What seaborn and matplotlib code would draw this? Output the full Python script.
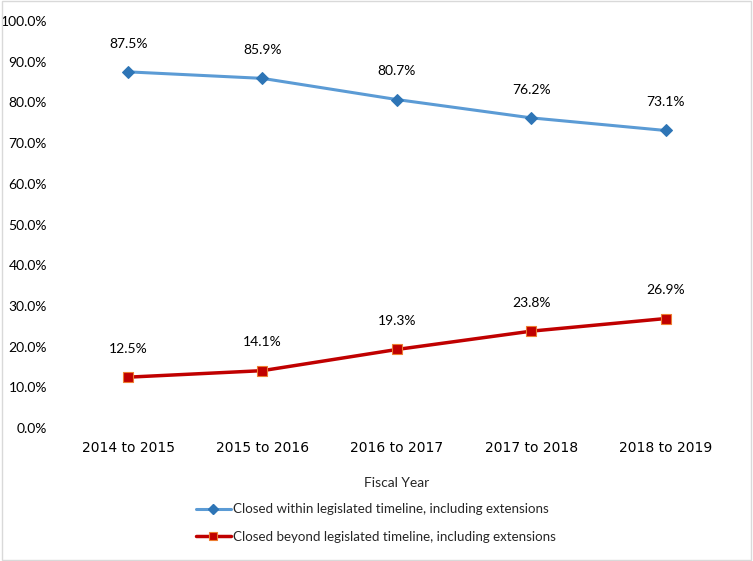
import matplotlib
matplotlib.use("Agg")
import matplotlib.pyplot as plt
import seaborn as sns
import pandas as pd
from matplotlib.ticker import FuncFormatter
from matplotlib.lines import Line2D

years = ["2014 to 2015", "2015 to 2016", "2016 to 2017", "2017 to 2018", "2018 to 2019"]
within = [87.5, 85.9, 80.7, 76.2, 73.1]
beyond = [12.5, 14.1, 19.3, 23.8, 26.9]
series_names = ["Closed within legislated timeline, including extensions",
                "Closed beyond legislated timeline, including extensions"]
yticks = [0, 10, 20, 30, 40, 50, 60, 70, 80, 90, 100]

sns.set_theme(style="white")
plt.rcParams['font.family'] = ['Lato', 'DejaVu Sans']

fig = plt.figure(figsize=(7.53, 5.61), dpi=100)
ax = fig.add_axes([0.081, 0.237, 0.892, 0.7256])

df = pd.DataFrame({"x": list(range(len(years))) * 2,
                   "v": within + beyond,
                   "s": [series_names[0]] * 5 + [series_names[1]] * 5})

sns.lineplot(data=df[df.s == series_names[0]], x="x", y="v", ax=ax, color="#5B9BD5",
             lw=2.2, marker="D", markersize=6, markerfacecolor="#2E75B6",
             markeredgecolor="#2E75B6", legend=False)
sns.lineplot(data=df[df.s == series_names[1]], x="x", y="v", ax=ax, color="#C00000",
             lw=2.5, marker="s", markersize=7, markerfacecolor="#C00000",
             markeredgecolor="#ED7D31", markeredgewidth=0.8, legend=False)

for i, v in enumerate(within):
    ax.annotate(f"{v:.1f}%", (i, v), xytext=(0, 16), textcoords="offset points",
                ha="center", va="bottom", fontsize=10, color="#000000")
for i, v in enumerate(beyond):
    ax.annotate(f"{v:.1f}%", (i, v), xytext=(0, 16), textcoords="offset points",
                ha="center", va="bottom", fontsize=10, color="#000000")

ax.set_xlim(-0.5, len(years) - 0.5)
ax.set_ylim(0, 100)
ax.set_yticks(yticks)
ax.yaxis.set_major_formatter(FuncFormatter(lambda v, p: f"{v:.1f}%"))
ax.set_xticks(range(len(years)))
ax.set_xticklabels(years, family=['DejaVu Sans'], fontsize=10)
ax.tick_params(axis='y', labelsize=10, length=0, pad=10, colors="#000000")
ax.tick_params(axis='x', length=0, pad=9, colors="#000000")
for s in ax.spines.values():
    s.set_visible(False)
ax.set_xlabel("")
ax.set_ylabel("")

fig.text(397 / 753, 1 - 483 / 561, "Fiscal Year", ha="center", va="center", fontsize=10)

handles = [Line2D([], [], color="#5B9BD5", lw=2.2, marker="D", markersize=5,
                  markerfacecolor="#2E75B6", markeredgecolor="#2E75B6"),
           Line2D([], [], color="#C00000", lw=2.5, marker="s", markersize=6,
                  markerfacecolor="#C00000", markeredgecolor="#ED7D31", markeredgewidth=0.8)]
fig.legend(handles, series_names, loc="center", bbox_to_anchor=(376 / 753, 1 - 523 / 561),
           frameon=False, fontsize=9.6, handlelength=2.6, handletextpad=0.2,
           labelspacing=1.15, ncol=1)

fig.patches.append(plt.Rectangle((0.002, 0.002), 0.996, 0.996, transform=fig.transFigure,
                                 fill=False, edgecolor="#D9D9D9", lw=1))

fig.savefig("out.png", dpi=100)
